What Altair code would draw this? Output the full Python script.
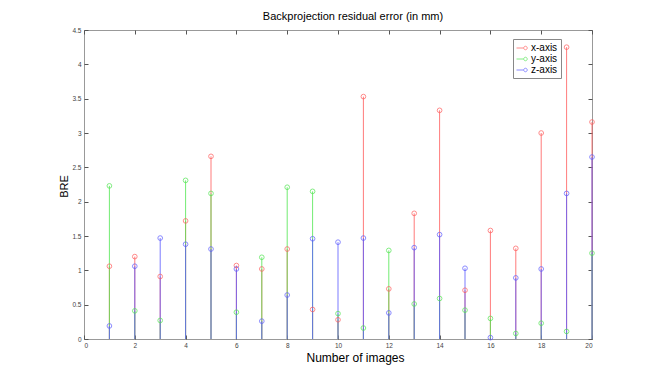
import altair as alt
import pandas as pd

images = list(range(1, 21))
x_err = [1.06, 1.20, 0.91, 1.72, 2.66, 1.07, 1.02, 1.31, 0.43, 0.28,
         3.53, 0.73, 1.83, 3.33, 0.71, 1.58, 1.32, 3.00, 4.25, 3.16]
y_err = [2.23, 0.41, 0.27, 2.31, 2.12, 0.39, 1.19, 2.21, 2.15, 0.37,
         0.16, 1.29, 0.51, 0.59, 0.42, 0.30, 0.08, 0.23, 0.11, 1.25]
z_err = [0.19, 1.06, 1.47, 1.38, 1.31, 1.02, 0.26, 0.64, 1.46, 1.41,
         1.47, 0.38, 1.33, 1.52, 1.03, 0.02, 0.89, 1.02, 2.12, 2.65]
series_names = ["x-axis", "y-axis", "z-axis"]
series_colors = ["#ff5a5a", "#4fe64f", "#5a5aff"]
x_ticks = list(range(0, 21, 2))
y_ticks = [0, 0.5, 1, 1.5, 2, 2.5, 3, 3.5, 4, 4.5]

rows = []
for name, vals in zip(series_names, [x_err, y_err, z_err]):
    for i, v in zip(images, vals):
        rows.append({"image": i, "series": name, "value": v})
df = pd.DataFrame(rows)
df["order"] = df["series"].map({n: k for k, n in enumerate(series_names)})

W, H = 508, 309
FONT = "Liberation Sans"

legend_symbol = "M-1,0L0.3,0M0.95,0A0.32,0.32,0,1,1,0.31,0A0.32,0.32,0,1,1,0.95,0Z"

xscale = alt.Scale(domain=[0, 20], nice=False)
yscale = alt.Scale(domain=[0, 4.5], nice=False)

base = alt.Chart(df)

stems = base.mark_rule(strokeWidth=1, opacity=0.8).encode(
    x=alt.X("image:Q", scale=xscale,
            axis=alt.Axis(orient="bottom", values=x_ticks, ticks=False, tickSize=0,
                          domain=False, grid=False, labelFontSize=6.5,
                          labelColor="#444", labelPadding=3, labelFont=FONT,
                          title="Number of images", titleFontSize=12,
                          titleFontWeight="normal", titleFont=FONT,
                          titleColor="#000", titleX=271, titleY=22,
                          titleBaseline="alphabetic", titleAlign="center")),
    y=alt.Y("value:Q", scale=yscale,
            axis=alt.Axis(orient="left", values=y_ticks, format="~g", ticks=False,
                          tickSize=0, domain=False, grid=False, labelFontSize=6.5,
                          labelColor="#444", labelPadding=3, labelFont=FONT,
                          title="BRE", titleFontSize=11, titleFontWeight="normal",
                          titleFont=FONT, titleColor="#000", titleX=-20, titleY=156,
                          titleAngle=270, titleAlign="center",
                          titleBaseline="middle")),
    y2=alt.datum(0),
    color=alt.Color("series:N",
                    scale=alt.Scale(domain=series_names, range=series_colors),
                    legend=None),
    order="order:Q",
)

points = base.mark_point(filled=False, size=22, strokeWidth=1, shape="circle").encode(
    x=alt.X("image:Q", scale=xscale,
            axis=alt.Axis(orient="top", offset=-H, values=x_ticks, labels=False,
                          domain=False, grid=False, tickSize=4, tickColor="#555",
                          title=None)),
    y=alt.Y("value:Q", scale=yscale,
            axis=alt.Axis(orient="right", offset=-W, values=y_ticks, labels=False,
                          domain=False, grid=False, tickSize=4, tickColor="#555",
                          title=None)),
    color=alt.Color("series:N",
                    scale=alt.Scale(domain=series_names, range=series_colors),
                    legend=alt.Legend(title=None, symbolType=legend_symbol,
                                      symbolSize=121, symbolStrokeWidth=1,
                                      symbolFillColor="transparent")),
    order="order:Q",
)

ghost = base.mark_point(opacity=0).encode(
    x=alt.X("image:Q", scale=xscale,
            axis=alt.Axis(orient="bottom", offset=-H, values=x_ticks, labels=False,
                          domain=False, grid=False, tickSize=4, tickColor="#555",
                          title=None)),
    y=alt.Y("value:Q", scale=yscale,
            axis=alt.Axis(orient="left", offset=-W, values=y_ticks, labels=False,
                          domain=False, grid=False, tickSize=4, tickColor="#555",
                          title=None)),
)

chart = (
    alt.layer(stems, points, ghost)
    .resolve_axis(x="independent", y="independent")
    .resolve_scale(color="independent")
    .resolve_legend(color="independent")
    .properties(
        width=W, height=H,
        autosize=alt.AutoSizeParams(type="none"),
        padding={"left": 76, "top": 22, "right": 50, "bottom": 30},
        title=alt.TitleParams("Backprojection residual error (in mm)", fontSize=11,
                              fontWeight="normal", font=FONT, color="#000",
                              dx=15, offset=5, anchor="middle"),
    )
    .configure_view(stroke="#999", strokeWidth=1)
    .configure_legend(orient="none", legendX=429, legendY=9, padding=3,
                      strokeColor="#888", fillColor="white", labelFontSize=10,
                      labelFont=FONT, labelColor="#000", rowPadding=0, labelOffset=3,
                      cornerRadius=0)
)

chart.save("out.html", embed_options={"renderer": "svg", "actions": False})
